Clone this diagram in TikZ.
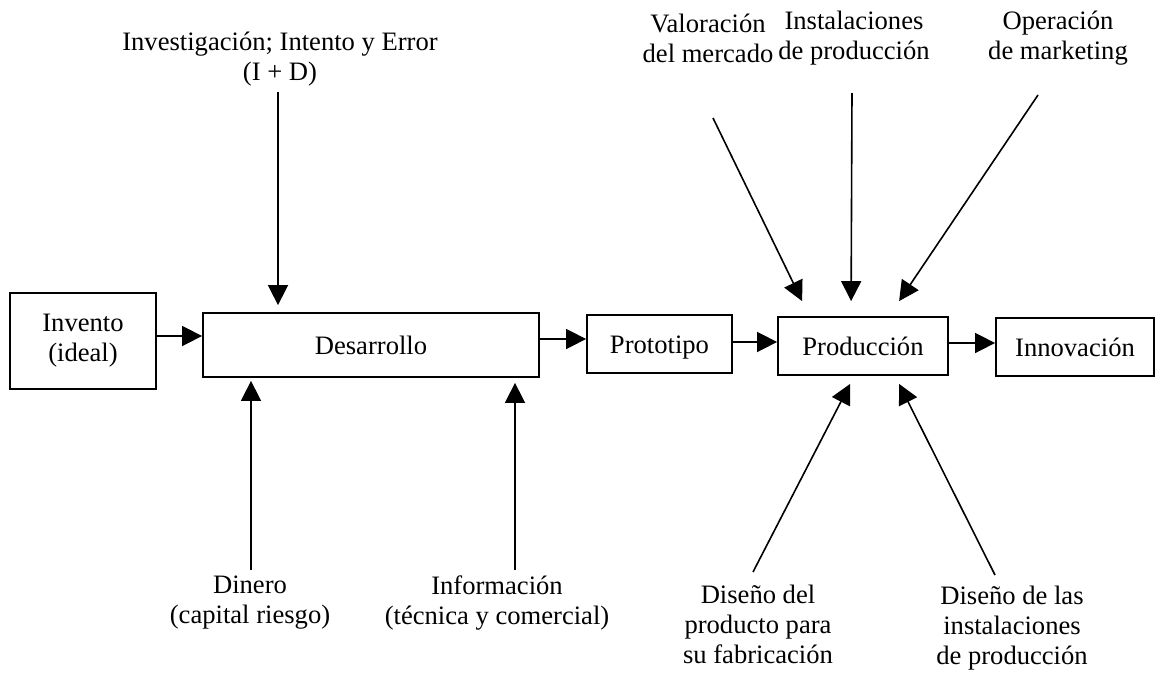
\documentclass[tikz,border=0pt]{standalone}
\usepackage{fontspec}
\setmainfont{Liberation Serif}
\usetikzlibrary{arrows.meta,calc}
\newcommand\lblfont{\fontsize{13.3}{15}\selectfont}
\tikzset{
  box/.style={draw, line width=0.9pt, inner sep=0pt, align=center, font=\lblfont},
  onebox/.style={box, text height=9pt, text depth=0pt},
  lbl/.style={align=center, inner sep=0pt, font=\lblfont},
  arr/.style={line width=0.8pt, -{Triangle[length=10pt,width=10pt]}},
}
\begin{document}
\begin{tikzpicture}[x=0.5pt,y=-0.5pt]
\useasboundingbox (0,0) rectangle (1158,675);
% boxes
\node[box, minimum width=73pt, minimum height=48pt] (inv) at (83,341) {Invento\\(ideal)};
\node[onebox, minimum width=168pt, minimum height=32pt] (des) at (371,345) {Desarrollo};
\node[onebox, minimum width=72.5pt, minimum height=29pt] (pro) at (659.5,344) {Prototipo};
\node[onebox, minimum width=85pt, minimum height=29pt] (prod) at (863,346) {Producción};
\node[onebox, minimum width=79pt, minimum height=29pt] (inn) at (1075,347) {Innovación};
% labels
\node[lbl] (id) at (280,59) {Investigación; Intento y Error\\(I + D)};
\node[lbl] (val) at (708,38) {Valoración\\del mercado};
\node[lbl] (ins) at (854,38) {Instalaciones\\de producción};
\node[lbl] (ope) at (1058,38) {Operación\\de marketing};
\node[lbl] (din) at (250,603) {Dinero\\(capital riesgo)};
\node[lbl] (inf) at (497,603) {Información\\(técnica y comercial)};
\node[lbl] (dp) at (758,624) {Diseño del\\producto para\\su fabricación};
\node[lbl] (di) at (1012,628) {Diseño de las\\instalaciones\\de producción};
% helper coordinates
\coordinate (h1) at (0,336);
\coordinate (h2) at (0,339);
\coordinate (h3) at (0,342);
\coordinate (h4) at (0,343);
\coordinate (v1) at (278,92);
\coordinate (a1) at (713,118);
\coordinate (a2) at (852,93);
\coordinate (a3) at (1038,95);
\coordinate (b1) at (251,570);
\coordinate (b2) at (515,570);
\coordinate (b3) at (753,572);
\coordinate (b4) at (995,575);
% main flow
\draw[arr] (inv.east |- h1) -- (des.west |- h1);
\draw[arr] (des.east |- h2) -- (pro.west |- h2);
\draw[arr] (pro.east |- h3) -- (prod.west |- h3);
\draw[arr] (prod.east |- h4) -- (inn.west |- h4);
% inputs
\draw[arr, shorten >=3.5pt] (v1) -- (v1 |- des.north);
\draw[arr] (a1) -- ($(prod.north west)+(25,-15)$);
\draw[arr] (a2) -- ($(prod.north west)+(74,-15)$);
\draw[arr] (a3) -- ($(prod.north west)+(122,-15)$);
\draw[arr, shorten >=1.5pt] (b1) -- (b1 |- des.south);
\draw[arr, shorten >=2.5pt] (b2) -- (b2 |- des.south);
\draw[arr] (b3) -- ($(prod.south west)+(73,8)$);
\draw[arr] (b4) -- ($(prod.south west)+(122,8)$);
\end{tikzpicture}
\end{document}
